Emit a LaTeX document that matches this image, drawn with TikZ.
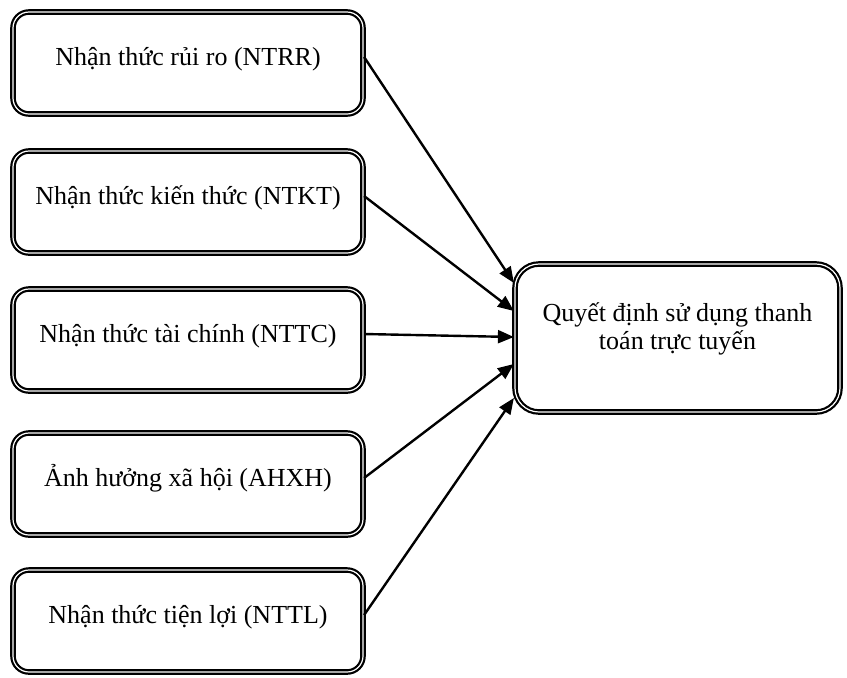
\documentclass[tikz,border=0pt]{standalone}
\usepackage{fontspec}
\setmainfont{Liberation Serif}
\usetikzlibrary{arrows.meta}
\begin{document}
\begin{tikzpicture}[%
  x = 0.5pt, y = -0.5pt,
  box/.style = {draw, double, double distance = 0.6pt, line width = 1.1pt,
    align = center, font = \fontsize{13}{14}\selectfont},
  factor/.style = {box, rounded corners = 8pt, minimum width = 175pt,
    minimum height = 51pt, text height = 10pt, text depth = 8pt},
  decision/.style = {box, rounded corners = 12pt, minimum width = 162.5pt,
    minimum height = 74pt},
  link/.style = {-{Triangle[length = 8pt, width = 6.5pt]}, line width = 1.2pt}]
  \useasboundingbox (0, 0) rectangle (847, 677);
  \node[factor] (ntrr) at (188, 63)  {Nhận thức rủi ro (NTRR)};
  \node[factor] (ntkt) at (188, 202) {Nhận thức kiến thức (NTKT)};
  \node[factor] (nttc) at (188, 340) {Nhận thức tài chính (NTTC)};
  \node[factor] (ahxh) at (188, 484) {Ảnh hưởng xã hội (AHXH)};
  \node[factor] (nttl) at (188, 621) {Nhận thức tiện lợi (NTTL)};
  \node[decision] (qd) at (677.5, 338) {Quyết định sử dụng thanh\\toán trực tuyến\\[-2pt]};

  \draw[link] ([yshift = 3pt]ntrr.east) -- ([yshift = 27.5pt]qd.west);
  \draw[link] ([yshift = 3pt]ntkt.east) -- ([yshift = 13.5pt]qd.west);
  \draw[link] ([yshift = 3pt]nttc.east) -- ([yshift = 0.5pt]qd.west);
  \draw[link] ([yshift = 3pt]ahxh.east) -- ([yshift = -13pt]qd.west);
  \draw[link] ([yshift = 3pt]nttl.east) -- ([yshift = -30pt]qd.west);
\end{tikzpicture}
\end{document}
